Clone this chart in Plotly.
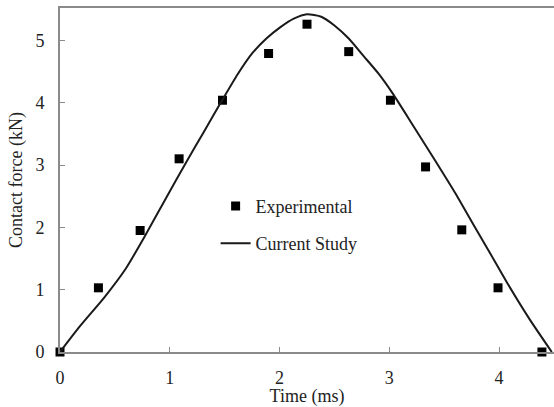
import plotly.graph_objects as go

exp_time = [0, 0.35, 0.73, 1.085, 1.48, 1.90, 2.25, 2.63, 3.01, 3.33, 3.66, 3.99, 4.39]
exp_force = [0, 1.03, 1.95, 3.10, 4.04, 4.79, 5.26, 4.82, 4.04, 2.97, 1.96, 1.03, 0]

sim_time = [0, 0.18, 0.41, 0.6, 0.77, 0.95, 1.155, 1.306, 1.474, 1.62, 1.75, 1.88, 2.005,
            2.13, 2.25, 2.38, 2.5, 2.63, 2.77, 2.9, 3.03, 3.2, 3.4, 3.6, 3.78, 3.93,
            4.07, 4.28, 4.48]
sim_force = [0, 0.41, 0.89, 1.34, 1.85, 2.42, 3.06, 3.52, 4.03, 4.46, 4.79, 5.03, 5.21,
             5.35, 5.42, 5.38, 5.24, 5.03, 4.74, 4.47, 4.15, 3.68, 3.12, 2.55, 2.0, 1.55,
             1.12, 0.52, 0]

x_ticks = [0, 1, 2, 3, 4]
y_ticks = [0, 1, 2, 3, 4, 5]

FONT = "Liberation Serif, Times New Roman, serif"
AX = "#8a8a8a"

fig = go.Figure()
fig.add_trace(go.Scatter(x=exp_time, y=exp_force, mode="markers", name="Experimental",
                         legendgroup="a",
                         marker=dict(symbol="square", size=9, color="#000000"),
                         cliponaxis=False))
fig.add_trace(go.Scatter(x=sim_time, y=sim_force, mode="lines", name="Current Study",
                         legendgroup="b",
                         line=dict(color="#1a1a1a", width=2, shape="spline", smoothing=0.6),
                         cliponaxis=False))

fig.update_layout(
    width=554, height=407,
    margin=dict(l=60, r=0, t=8, b=55),
    paper_bgcolor="white", plot_bgcolor="white",
    font=dict(family=FONT, size=18, color="#222222"),
    showlegend=True,
    legend=dict(x=0.315, y=0.37, xanchor="left", yanchor="middle",
                bgcolor="rgba(0,0,0,0)", font=dict(size=18, family=FONT),
                traceorder="grouped", tracegroupgap=11, itemwidth=30),
    xaxis=dict(range=[0, 4.5], tickvals=x_ticks, ticks="inside", ticklen=5,
               tickcolor=AX, tickwidth=1, showline=True, linecolor=AX, linewidth=2,
               mirror=True, showgrid=False, zeroline=False,
               ticklabelstandoff=8,
               title=dict(text="Time (ms)", standoff=2, font=dict(size=18))),
    yaxis=dict(range=[0, 5.52], tickvals=y_ticks, ticks="inside", ticklen=5,
               tickcolor=AX, tickwidth=1, showline=True, linecolor=AX, linewidth=2,
               showgrid=False, zeroline=False, ticklabelstandoff=10,
               title=dict(text="Contact force (kN)", standoff=8, font=dict(size=18))),
)

fig.write_html("out.html", post_script="document.body.style.margin='0';",
               config={"displayModeBar": False})
